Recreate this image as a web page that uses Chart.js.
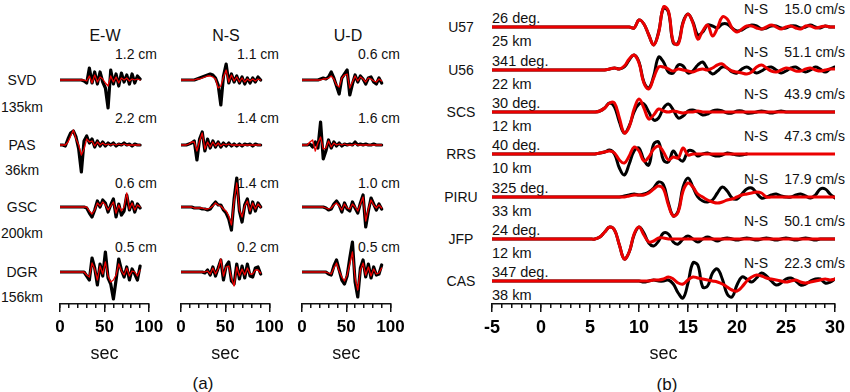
<!DOCTYPE html>
<html>
<head>
<meta charset="utf-8">
<script src="https://cdn.jsdelivr.net/npm/chart.js@4"></script>
<style>
body { margin: 0; background: #fff; }
#fig { position: relative; width: 850px; height: 392px; overflow: hidden; font-family: "Liberation Sans", Arial, sans-serif; color: #111; }
#fig canvas { position: absolute; top: 0; }
.t { position: absolute; white-space: nowrap; line-height: 1; }
</style>
</head>
<body>
<div id="fig"></div>
<script>
// ---------- panel (a) data: displacement, time in sec ----------
const stationsA = ['SVD', 'PAS', 'GSC', 'DGR'];
const distA = ['135km', '36km', '200km', '156km'];
const compsA = ['E-W', 'N-S', 'U-D'];
const ampA = [
  ['1.2 cm', '2.2 cm', '0.6 cm', '0.5 cm'],
  ['1.1 cm', '1.4 cm', '1.4 cm', '0.2 cm'],
  ['0.6 cm', '1.6 cm', '1.0 cm', '0.5 cm']
];
const tA = [0,3,6,9,12,15,18,21,24,27,30,33,36,39,42,45,48,51,54,57,60,63,66,69,72,75,78,81,84,87,90];

const obsEW_SVD = [0,0,0,0,0,0,0,0,0,-1,-3,12,-3,8,-4,8,-2,-8,-28,10,-4,6,-6,7,-2,5,-4,6,-3,4,1];
const synEW_SVD = [0,0,0,0,0,0,0,0,0,0,-1,4,-3,5,-2,3,1,-3,-6,4,-2,3,-3,2,0,2,-1,1,0,1,0];
const obsEW_PAS = [0,0,-1,6,12,14,8,-4,-27,4,9,2,6,-2,4,-1,3,-1,2,0,2,-1,1,0,2,0,1,-1,1,0,0];
const synEW_PAS = [0,0,0,3,9,15,6,0,-10,-4,6,3,4,-1,3,0,2,0,1,0,1,0,1,0,1,0,0,0,0,0,0];
const obsEW_GSC = [0,0,0,0,0,0,0,0,0,0,-1,-6,-10,-3,6,0,7,4,-5,2,8,-10,3,-8,-4,12,-3,5,-5,3,-1];
const synEW_GSC = [0,0,0,0,0,0,0,0,0,0,0,-4,-7,-3,4,1,5,2,-3,1,5,-6,2,-4,0,14,-2,4,-3,2,0];
const obsEW_DGR = [0,0,0,0,0,0,0,0,0,0,-4,-8,14,4,-13,8,-4,20,-6,-12,-27,-8,13,2,-5,5,-8,3,-2,-8,6];
const synEW_DGR = [0,0,0,0,0,0,0,0,0,0,-3,-5,9,3,-8,6,-2,10,-4,-10,-8,-3,8,1,-3,4,-4,1,0,-4,2];

const obsNS_SVD = [0,0,0,0,0,0,1,2,3,4,5,6,5,2,-5,-25,4,16,-3,6,-2,4,-3,3,-4,2,-3,2,-2,3,0];
const synNS_SVD = [0,0,0,0,0,0,1,1,2,3,4,4,3,1,-8,-6,3,10,-2,5,-1,3,-2,2,-2,1,-1,1,-1,1,0];
const obsNS_PAS = [0,0,0,1,2,4,-15,6,13,-6,6,-3,4,-2,3,-2,2,-1,2,-1,1,-1,1,-1,1,0,1,-1,1,0,0];
const synNS_PAS = [0,0,0,1,3,3,-6,4,12,-4,3,-2,3,-1,2,-1,1,0,1,0,0,0,0,0,0,0,0,0,0,0,0];
const obsNS_GSC = [0,0,0,0,0,-1,-1,-1,-2,-2,-3,-2,2,5,2,2,-3,-6,-12,-23,8,29,-4,-15,2,8,-6,5,-4,4,0];
const synNS_GSC = [0,0,0,0,0,-1,-1,-1,-1,-2,-2,-1,1,4,2,1,-2,-4,-9,-18,6,24,-3,-10,1,6,-4,4,-2,3,0];
const obsNS_DGR = [0,0,0,0,0,0,0,0,0,-1,2,-3,5,-4,4,12,-8,6,10,-9,-12,8,-7,6,-6,8,-4,-5,4,5,-2];
const synNS_DGR = [0,0,0,0,0,0,0,0,0,0,1,-2,4,-2,3,13,-4,5,6,-6,-14,5,-4,3,-3,4,-2,-2,2,2,-1];

const obsUD_SVD = [0,0,0,0,0,0,0,1,2,1,3,8,2,-6,-14,2,6,10,-15,-4,5,-2,4,1,-4,2,3,-2,-4,2,-3];
const synUD_SVD = [0,0,0,0,0,0,0,0,1,1,2,4,1,-5,-7,2,5,6,-8,-2,4,-1,3,1,-2,2,1,-1,-2,1,-1];
const obsUD_PAS = [0,0,0,1,-2,3,-3,23,-14,-6,5,-3,3,-1,2,-1,1,0,1,0,3,0,1,0,1,0,0,1,0,0,0];
const synUD_PAS = [0,0,0,3,5,-6,2,8,-4,-3,4,-2,2,0,1,0,1,0,0,0,1,0,0,0,0,0,0,0,0,0,0];
const obsUD_GSC = [0,0,0,0,0,0,0,0,0,-1,-3,-2,3,6,2,-5,4,-2,-4,5,-1,-6,4,12,-20,-4,9,3,-3,3,-2];
const synUD_GSC = [0,0,0,0,0,0,0,0,0,-1,-2,-1,2,4,1,-3,3,-1,-2,3,0,-4,3,10,-14,-2,7,2,-1,2,-1];
const obsUD_DGR = [0,0,0,0,0,0,0,0,0,0,-2,-3,6,12,2,-8,-12,-4,14,30,-10,-25,4,12,-5,8,-6,5,-3,-2,7];
const synUD_DGR = [0,0,0,0,0,0,0,0,0,0,-1,-2,4,9,1,-5,-9,-3,8,20,-6,-18,2,9,-3,5,-4,3,-2,-1,4];

// ---------- panel (b) data: velocity, time in sec ----------
const stationsB = ['U57', 'U56', 'SCS', 'RRS', 'PIRU', 'JFP', 'CAS'];
const azB = ['26 deg.', '341 deg.', '30 deg.', '40 deg.', '325 deg.', '24 deg.', '347 deg.'];
const distB = ['25 km', '22 km', '12 km', '10 km', '33 km', '12 km', '38 km'];
const peakB = ['15.0 cm/s', '51.1 cm/s', '43.9 cm/s', '47.3 cm/s', '17.9 cm/s', '50.1 cm/s', '22.3 cm/s'];
const tB = [-5, 5,5.5,6,6.5,7,7.5,8,8.5,9,9.5, 10,10.5,11,11.5,12,12.5,13,13.5,14,14.5,
  15,15.5,16,16.5,17,17.5,18,18.5,19,19.5, 20,20.5,21,21.5,22,22.5,23,23.5,24,24.5,
  25,25.5,26,26.5,27,27.5,28,28.5,29,29.5, 30];

const obsU57 = [0, 0,0,0,0,0,0,0,0,0,-1, 7,3,-8,-18,-5,19,15,-16,-16,5, 13,5,-8,-5,2,1,-1,3,3,-1, -4,-3,0,2,1,-2,-1,1,1,-1, -1,1,1,-1,0,2,0,-1,1,0, 0];
const synU57 = [0, 0,0,0,0,0,0,0,0,0,-1, 7,3,-8,-18,-6,20,16,-15,-17,4, 13,4,-12,-4,2,-9,-1,10,8,-1, -5,-2,1,1,-1,-2,0,2,0,-2, 0,1,-1,-2,1,1,-1,0,1,0, 0];
const obsU56 = [0, 0,0,0,0,1,2,1,3,10,15, 8,-12,-18,-6,13,8,-2,-3,5,4, -3,-1,5,8,1,-4,-1,3,2,-2, -3,1,3,0,-3,-1,2,3,0,-3, -1,2,3,0,-2,0,3,1,-2,1, 3];
const synU56 = [0, 0,0,0,0,1,2,1,4,11,15, 7,-13,-19,-8,3,3,1,-1,1,0, -1,-2,0,1,0,2,5,6,2,-1, -2,-3,-4,-2,3,5,2,-1,-2,0, 2,1,-1,-1,1,2,0,-1,0,1, 1];
const obsSCS = [0, 0,0,1,4,9,5,-10,-21,-14,0, 8,8,0,-8,-6,4,8,2,-6,-4, 1,2,0,-3,-2,1,2,1,-1,-1, 1,1,-1,-1,0,1,0,-1,0,1, 0,0,0,0,0,0,0,0,0,0, 0];
const synSCS = [0, 0,0,1,4,9,9,-6,-21,-15,3, 13,4,-7,-3,3,1,0,1,0,-1, 0,0,1,0,0,0,0,0,0,0, 0,0,0,0,0,0,0,0,0,0, 0,0,0,0,0,0,0,0,0,0, 0];
const obsRRS = [0, 0,0,1,2,4,0,-14,-21,-10,3, 6,-6,-11,10,12,-6,-8,3,-4,-7, 3,3,-2,0,1,-1,-2,-1,1,0, -1,-1,0,
  null,null,null,null,null,null,null,null,null,null,null,null,null,null,null,null,null,null];
const synRRS = [0, 0,0,1,2,3,1,-6,-9,-2,7, 3,-7,-3,5,8,2,-6,-3,-4,6, -1,0,0,0,0,0,0,0,0,0, 0,0,0,0,0,0,0,0,0,0, 0,0,0,0,0,0,0,0,0,0, 0];
const obsPIRU = [0, 0,0,0,0,0,0,0,1,2,3, 2,3,5,9,15,12,-6,-19,-14,10, 19,10,0,-4,-5,-3,4,10,6,-1, -2,3,8,9,4,-1,0,2,3,1, 0,0,2,3,1,-1,2,8,8,3, -1];
const synPIRU = [0, 0,0,0,0,0,0,0,0,1,2, 2,2,4,8,11,8,-8,-19,-15,6, 14,10,3,0,-3,-5,-6,-5,-3,-2, 0,2,3,4,5,4,0,0,0,0, 0,0,0,0,0,0,0,0,0,0, 0];
const obsJFP = [0, 0,0,2,7,12,9,-6,-20,-13,4, 12,6,-4,-7,-2,6,5,-3,-5,0, 3,0,-3,0,2,0,-2,0,1,0, -1,0,1,0,-1,0,1,0,-1,0, 1,0,-1,0,1,0,-1,0,0,0, 0];
const synJFP = [0, 0,0,2,7,12,9,-6,-20,-13,5, 12,4,-3,-2,1,1,0,0,0,0, 0,0,0,0,0,0,0,0,0,0, 0,0,0,0,0,0,0,0,0,0, 0,0,0,0,0,0,0,0,0,0, 0];
const obsCAS = [0, 0,0,0,0,0,0,0,0,0,0, 0,-1,0,1,0,0,1,-3,-12,-17, -2,18,16,-6,-5,8,12,2,-13,-16, -4,4,2,-1,3,8,5,0,-4,-2, 2,3,0,-4,-3,0,2,2,-2,-1, 2];
const synCAS = [0, 0,0,0,0,0,0,0,0,0,0, 0,0,0,1,1,2,4,2,-2,-3, 1,4,3,2,1,0,-1,-3,-6,-9, -10,-6,0,4,6,5,3,2,1,0, -1,0,1,-1,-2,-1,0,1,2,1, 2];

const traceA = [
  [[obsEW_SVD, synEW_SVD], [obsEW_PAS, synEW_PAS], [obsEW_GSC, synEW_GSC], [obsEW_DGR, synEW_DGR]],
  [[obsNS_SVD, synNS_SVD], [obsNS_PAS, synNS_PAS], [obsNS_GSC, synNS_GSC], [obsNS_DGR, synNS_DGR]],
  [[obsUD_SVD, synUD_SVD], [obsUD_PAS, synUD_PAS], [obsUD_GSC, synUD_GSC], [obsUD_DGR, synUD_DGR]]
];
const traceB = [[obsU57, synU57], [obsU56, synU56], [obsSCS, synSCS], [obsRRS, synRRS],
  [obsPIRU, synPIRU], [obsJFP, synJFP], [obsCAS, synCAS]];

// ---------- layout ----------
const fig = document.getElementById('fig');
const AXIS_Y = 304;             // pixel row of the time axes
const rowYA = [80, 145, 207, 272];
const colX0 = [59.5, 181, 301.5];
const colX100 = [148.5, 269.5, 390];
const rowYB = [27, 70, 112, 154, 197, 239, 281];
const RED = 'rgb(235,0,0)';
const INK = '#111';

function label(text, x, y, align, size, weight) {
  const d = document.createElement('div');
  d.className = 't';
  d.textContent = text;
  d.style.left = x + 'px';
  d.style.top = y + 'px';
  d.style.fontSize = size + 'px';
  if (weight) d.style.fontWeight = weight;
  const tx = align === 'l' ? '0' : align === 'r' ? '-100%' : '-50%';
  d.style.transform = 'translate(' + tx + ',-50%)';
  fig.appendChild(d);
}

function series(t, vals, off) {
  return t.map((x, i) => ({ x: x, y: vals[i] === null ? null : vals[i] + off }));
}

function makeChart(left, width, padL, padR, xmin, xmax, major, minor, tickSize, datasets, tension) {
  const c = document.createElement('canvas');
  c.width = width;
  c.height = 392;
  c.style.left = left + 'px';
  fig.appendChild(c);
  new Chart(c, {
    type: 'line',
    data: { datasets: datasets },
    options: {
      responsive: false,
      animation: false,
      devicePixelRatio: 1,
      layout: { padding: { left: padL, right: padR, top: 0, bottom: 0 } },
      plugins: { legend: { display: false }, tooltip: { enabled: false } },
      elements: {
        point: { radius: 0 },
        line: { tension: tension, borderJoinStyle: 'round', borderCapStyle: 'round' }
      },
      scales: {
        x: {
          type: 'linear', min: xmin, max: xmax, position: 'bottom',
          border: { color: INK, width: 1.6 },
          grid: { drawOnChartArea: false, tickLength: 8, color: INK, lineWidth: 1.5 },
          ticks: { stepSize: major, color: '#000', padding: 5, maxRotation: 0, autoSkip: false,
            font: { family: '"Liberation Sans", Arial, sans-serif', size: tickSize, weight: 'bold' } },
          title: { display: true, text: 'sec', color: INK, padding: { top: 0, bottom: 27 },
            font: { family: '"Liberation Sans", Arial, sans-serif', size: 18 } },
          afterFit: function (s) { s.height = 392 - AXIS_Y; }
        },
        xMinor: {
          type: 'linear', axis: 'x', min: xmin, max: xmax, position: { y: 0 },
          border: { display: false },
          grid: { drawOnChartArea: false, tickLength: 4, color: INK, lineWidth: 1.5 },
          ticks: { stepSize: minor, display: false }
        },
        y: { type: 'linear', min: 0, max: AXIS_Y, display: false }
      }
    }
  });
}

// ---------- panel (a) texts ----------
const hdrX = [105, 226, 348];
const ampX = [157, 279, 400];
const ampY = [54, 118, 183, 247];
const distY = [107, 170, 233, 297];
compsA.forEach((c, j) => label(c, hdrX[j], 36, 'c', 16));
stationsA.forEach((s, i) => {
  label(s, 22, rowYA[i], 'c', 14);
  label(distA[i], 22, distY[i], 'c', 14);
});
ampA.forEach((col, j) => col.forEach((a, i) => label(a, ampX[j], ampY[i], 'r', 14)));
label('(a)', 203, 383, 'c', 17);

// ---------- panel (b) texts ----------
stationsB.forEach((s, i) => {
  label(s, 461, rowYB[i], 'c', 14);
  label(azB[i], 492, rowYB[i] - 9.5, 'l', 14.5);
  label(distB[i], 492, rowYB[i] + 14, 'l', 14.5);
  label('N-S', 768, rowYB[i] - 18.5, 'r', 14);
  label(peakB[i], 845, rowYB[i] - 18.5, 'r', 14);
});
label('(b)', 667, 384, 'c', 17);

// ---------- panel (a) charts ----------
traceA.forEach((col, j) => {
  const ds = [];
  col.forEach((pair, i) => {
    const off = AXIS_Y - rowYA[i];
    ds.push({ data: series(tA, pair[0], off), borderColor: '#000', borderWidth: 3.2, order: 1 });
    ds.push({ data: series(tA, pair[1], off), borderColor: RED, borderWidth: 1.3, order: 0 });
  });
  const w = colX100[j] - colX0[j];
  makeChart(colX0[j] - 20, 130, 20, 130 - 20 - w, 0, 100, 50, 10, 17, ds, 0);
});

// ---------- panel (b) chart ----------
const dsB = [];
traceB.forEach((pair, i) => {
  const off = AXIS_Y - rowYB[i];
  dsB.push({ data: series(tB, pair[0], off), borderColor: '#000', borderWidth: 3, order: 1 });
  dsB.push({ data: series(tB, pair[1], off), borderColor: RED, borderWidth: 3, order: 0 });
});
makeChart(470, 380, 22, 12, -5, 30, 5, 1, 18, dsB, 0.4);
</script>
</body>
</html>
